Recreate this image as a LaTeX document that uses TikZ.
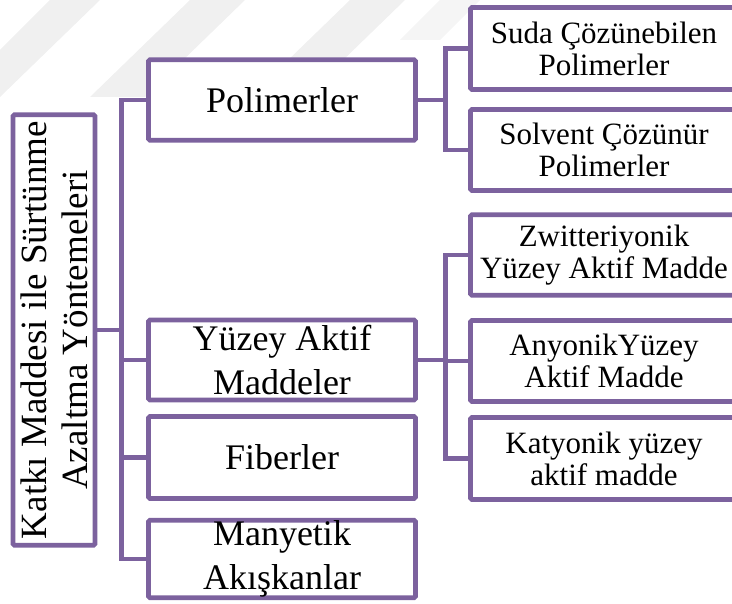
\documentclass[tikz,border=0pt]{standalone}
\usepackage{fontspec}
\setmainfont{Liberation Serif}
\newfontfamily\tnr{Liberation Serif}
\definecolor{pur}{RGB}{124,98,158}
\begin{document}
\begin{tikzpicture}[x=1pt,y=1pt,
  box/.style={draw=pur, line width=4.8pt, fill=white, rounded corners=1.5pt, inner sep=0pt, align=center},
  lone/.style={box, minimum width=267pt, font=\tnr\fontsize{36}{44}\selectfont},
  ltwo/.style={box, minimum width=267pt, font=\tnr\fontsize{31}{32}\selectfont},
  conn/.style={draw=pur, line width=4.8pt}]
\useasboundingbox (0,0) rectangle (732,-604);
\clip (0,0) rectangle (732,-604);
% faint watermark bands
\fill[black!6] (0,-97) -- (100,0) -- (50,0) -- (0,-50) -- cycle;
\fill[black!6] (90,-97) -- (190,0) -- (245,0) -- (145,-97) -- cycle;
\fill[black!6] (250,-97) -- (350,0) -- (405,0) -- (305,-97) -- cycle;
\fill[black!4] (400,-40) -- (440,0) -- (480,0) -- (440,-40) -- cycle;
% root
\node[box, rotate=90, minimum width=430.5pt, minimum height=82pt,
      font=\tnr\fontsize{37}{41}\selectfont] (root) at (54,-330)
      {Katkı Maddesi ile Sürtünme\\Azaltma Yöntemeleri};
% level 1
\node[lone, minimum height=80.5pt] (pol) at (282,-100) {Polimerler};
\node[lone, minimum height=80pt] (yuz) at (282,-360) {Yüzey Aktif\\Maddeler};
\node[lone, minimum height=82pt] (fib) at (282,-457.5) {Fiberler};
\node[lone, minimum height=77.5pt] (man) at (282,-559) {Manyetik\\Akışkanlar};
% level 2
\node[ltwo, minimum height=82pt] (suda) at (604,-48.5) {Suda Çözünebilen\\Polimerler};
\node[ltwo, minimum height=81pt] (solv) at (604,-150) {Solvent Çözünür\\Polimerler};
\node[ltwo, minimum height=80.5pt] (zw) at (604,-255) {Zwitteriyonik\\Yüzey Aktif Madde};
\node[ltwo, minimum height=81pt] (any) at (604,-361) {AnyonikYüzey\\Aktif Madde};
\node[ltwo, minimum height=82pt] (kat) at (604,-458.5) {Katyonik yüzey\\aktif madde};
% connectors
\coordinate (trunk) at (121.5,0);
\coordinate (br) at (445.5,0);
\draw[conn] (root.south) -- (root.south -| trunk);
\draw[conn] (pol.west) -- (pol.west -| trunk) -- (man.west -| trunk) -- (man.west);
\draw[conn] (yuz.west -| trunk) -- (yuz.west);
\draw[conn] (fib.west -| trunk) -- (fib.west);
\draw[conn] (pol.east) -- (pol.east -| br);
\draw[conn] (suda.west) -- (suda.west -| br) -- (solv.west -| br) -- (solv.west);
\draw[conn] (yuz.east) -- (yuz.east -| br);
\draw[conn] (zw.west) -- (zw.west -| br) -- (kat.west -| br) -- (kat.west);
\draw[conn] (any.west -| br) -- (any.west);
\end{tikzpicture}
\end{document}
